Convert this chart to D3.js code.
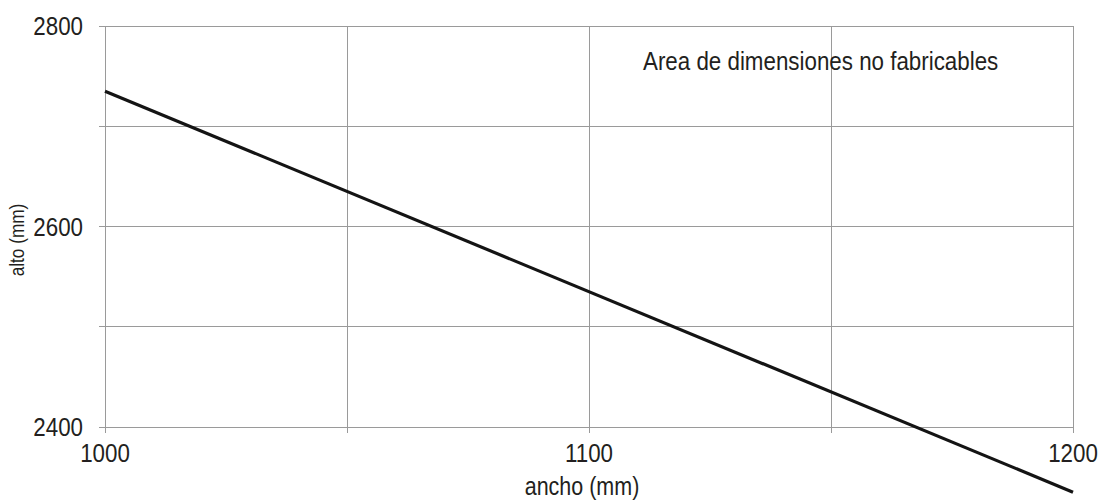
<!DOCTYPE html>
<meta charset="utf-8">
<script src="https://d3js.org/d3.v7.min.js"></script>
<style>
  body { margin: 0; background: #fff; }
  text { font-family: "Liberation Sans", Arial, sans-serif; fill: #231f20; }
</style>
<body>
<div id="chart"></div>
<script>
// data
var xTicks = [1000, 1100, 1200];
var yTicks = [2400, 2600, 2800];
var xGrid = [1000, 1050, 1100, 1150, 1200];
var yGrid = [2400, 2500, 2600, 2700, 2800];
var limitAncho = [1000, 1200];
var limitAlto = [2735, 2335];

var W = 1099, H = 502;
var margin = {top: 26, left: 105};
var width = 1073 - margin.left, height = 427 - margin.top;
var squeeze = 0.86; // narrow the font to look like a condensed face

var svg = d3.select("#chart").append("svg")
    .attr("width", W).attr("height", H);
var g = svg.append("g").attr("transform", "translate(" + margin.left + "," + margin.top + ")");

var x = d3.scaleLinear().domain([1000, 1200]).range([0, width]);
var y = d3.scaleLinear().domain([2400, 2800]).range([height, 0]);

// put a condensed text at (px,py)
function label(parent, px, py, str, size, anchor, rot) {
  return parent.append("text")
    .attr("transform", "translate(" + px + "," + py + ")" + (rot ? " rotate(" + rot + ")" : "") + " scale(" + squeeze + ",1)")
    .attr("text-anchor", anchor || "start")
    .attr("font-size", size)
    .text(str);
}

// grid
g.selectAll(".vg").data(xGrid).enter().append("line")
  .attr("x1", d => x(d)).attr("x2", d => x(d))
  .attr("y1", 0).attr("y2", height + 6)
  .attr("stroke", "#9a9a9a").attr("stroke-width", 1).attr("shape-rendering", "crispEdges");
g.selectAll(".hg").data(yGrid).enter().append("line")
  .attr("y1", d => y(d)).attr("y2", d => y(d))
  .attr("x1", -6).attr("x2", width)
  .attr("stroke", "#9a9a9a").attr("stroke-width", 1).attr("shape-rendering", "crispEdges");

// tick labels
xTicks.forEach(function(d) { label(g, x(d), height + 35, d, 26, "middle"); });
yTicks.forEach(function(d) { label(g, -22, y(d) + 9, d, 26, "end"); });

// axis labels
label(svg, 582, 495, "ancho (mm)", 25, "middle");
label(svg, 24, 240, "alto (mm)", 20, "middle", -90);

// annotation
label(svg, 643, 70, "Area de dimensiones no fabricables", 26, "start");

// limit line
var line = d3.line().x(d => x(d[0])).y(d => y(d[1]));
g.append("path")
  .datum(limitAncho.map((a, i) => [a, limitAlto[i]]))
  .attr("d", line)
  .attr("fill", "none").attr("stroke", "#141414").attr("stroke-width", 3.2);
</script>
</body>
